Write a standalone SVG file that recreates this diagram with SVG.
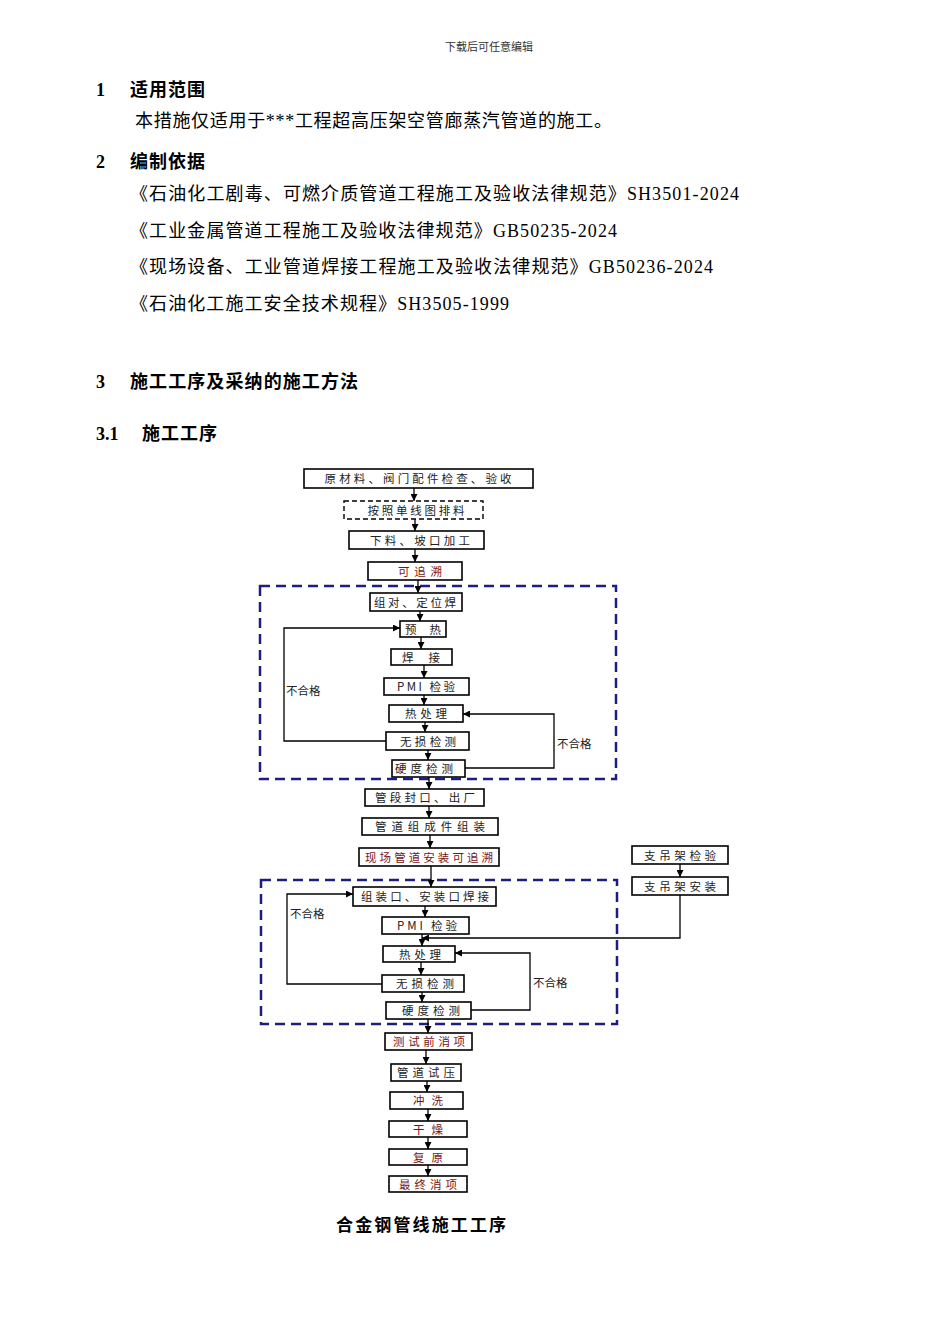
<svg xmlns="http://www.w3.org/2000/svg" width="950" height="1344" viewBox="0 0 950 1344">
<style>
.hdr{font-family:"Liberation Serif","Noto Sans CJK SC",serif;font-size:11px;fill:#333}
.h{font-family:"Liberation Serif","Noto Sans CJK SC",serif;font-size:18px;font-weight:bold;fill:#000}
.b{font-family:"Liberation Serif","Noto Sans CJK SC",serif;font-size:18px;fill:#000}
.box{fill:#fff;stroke:#000;stroke-width:1.6}
.dbox{fill:#fff;stroke:#000;stroke-width:1.4;stroke-dasharray:5 3}
.t{font-family:"Noto Sans CJK SC",sans-serif;font-size:11.5px;fill:#222;text-anchor:middle}
.r{fill:#7a1414}
.lbl{font-family:"Noto Sans CJK SC",sans-serif;font-size:11.5px;fill:#222}
.grp{fill:none;stroke:#1e1e82;stroke-width:2.5;stroke-dasharray:10 6}
.c{fill:none;stroke:#000;stroke-width:1.3}
.cap{font-family:"Liberation Serif","Noto Sans CJK SC",serif;font-size:17px;font-weight:bold;fill:#000}
</style>
<defs>
<marker id="a" viewBox="0 0 10 10" refX="10" refY="5" markerWidth="7" markerHeight="7" orient="auto" markerUnits="userSpaceOnUse"><path d="M0,0 L10,5 L0,10 z" fill="#000"/></marker>
</defs>
<rect width="950" height="1344" fill="#fff"/>
<g id="text">
<text class="hdr" x="489" y="51" text-anchor="middle">下载后可任意编辑</text>
<text class="h" x="96" y="96">1</text><text class="h" x="130" y="96" textLength="75">适用范围</text>
<text class="b" x="135" y="127" textLength="477">本措施仅适用于***工程超高压架空管廊蒸汽管道的施工。</text>
<text class="h" x="96" y="168">2</text><text class="h" x="130" y="168" textLength="75">编制依据</text>
<text class="b" x="130" y="200" textLength="609">《石油化工剧毒、可燃介质管道工程施工及验收法律规范》SH3501-2024</text>
<text class="b" x="130" y="237" textLength="487">《工业金属管道工程施工及验收法律规范》GB50235-2024</text>
<text class="b" x="130" y="273" textLength="583">《现场设备、工业管道焊接工程施工及验收法律规范》GB50236-2024</text>
<text class="b" x="130" y="310" textLength="379">《石油化工施工安全技术规程》SH3505-1999</text>
<text class="h" x="96" y="388">3</text><text class="h" x="130" y="388" textLength="228">施工工序及采纳的施工方法</text>
<text class="h" x="96" y="440">3.1</text><text class="h" x="142" y="440" textLength="75">施工工序</text>
<text class="cap" x="336" y="1231" textLength="170">合金钢管线施工工序</text>
</g>
<g id="groups">
<rect class="grp" x="260" y="586" width="356" height="193"/>
<rect class="grp" x="261" y="880" width="356" height="144"/>
</g>
<g id="connectors">
<line class="c" x1="414" y1="488" x2="414" y2="501" marker-end="url(#a)"/>
<line class="c" x1="415" y1="519" x2="415" y2="531" marker-end="url(#a)"/>
<line class="c" x1="415" y1="549" x2="415" y2="562" marker-end="url(#a)"/>
<line class="c" x1="418" y1="580" x2="418" y2="593" marker-end="url(#a)"/>
<line class="c" x1="420" y1="611" x2="420" y2="621" marker-end="url(#a)"/>
<line class="c" x1="421" y1="637" x2="421" y2="649" marker-end="url(#a)"/>
<line class="c" x1="424" y1="665" x2="424" y2="678" marker-end="url(#a)"/>
<line class="c" x1="424" y1="695" x2="424" y2="705" marker-end="url(#a)"/>
<line class="c" x1="425" y1="722" x2="425" y2="732" marker-end="url(#a)"/>
<line class="c" x1="428" y1="750" x2="428" y2="760" marker-end="url(#a)"/>
<polyline class="c" points="386,741 284,741 284,628 400,628" marker-end="url(#a)"/>
<polyline class="c" points="465,768 554,768 554,714 463,714" marker-end="url(#a)"/>
<line class="c" x1="429" y1="777" x2="429" y2="789" marker-end="url(#a)"/>
<line class="c" x1="429" y1="806" x2="429" y2="818" marker-end="url(#a)"/>
<line class="c" x1="430" y1="835" x2="430" y2="848" marker-end="url(#a)"/>
<line class="c" x1="431" y1="866" x2="431" y2="887" marker-end="url(#a)"/>
<line class="c" x1="680" y1="864" x2="680" y2="877" marker-end="url(#a)"/>
<line class="c" x1="425" y1="906" x2="425" y2="917" marker-end="url(#a)"/>
<line class="c" x1="422" y1="934" x2="422" y2="946" marker-end="url(#a)"/>
<polyline class="c" points="680,895 680,938 422,938" marker-end="url(#a)"/>
<line class="c" x1="421" y1="962" x2="421" y2="975" marker-end="url(#a)"/>
<line class="c" x1="422" y1="992" x2="422" y2="1002" marker-end="url(#a)"/>
<polyline class="c" points="382,984 287,984 287,894 353,894" marker-end="url(#a)"/>
<polyline class="c" points="471,1010 530,1010 530,953 455,953" marker-end="url(#a)"/>
<line class="c" x1="428" y1="1019" x2="428" y2="1033" marker-end="url(#a)"/>
<line class="c" x1="426" y1="1050" x2="426" y2="1064" marker-end="url(#a)"/>
<line class="c" x1="427" y1="1081" x2="427" y2="1092" marker-end="url(#a)"/>
<line class="c" x1="428" y1="1109" x2="428" y2="1121" marker-end="url(#a)"/>
<line class="c" x1="428" y1="1137" x2="428" y2="1149" marker-end="url(#a)"/>
<line class="c" x1="428" y1="1165" x2="428" y2="1176" marker-end="url(#a)"/>
<text class="lbl" x="286" y="695">不合格</text>
<text class="lbl" x="557" y="748">不合格</text>
<text class="lbl" x="290" y="918">不合格</text>
<text class="lbl" x="533" y="987">不合格</text>
</g>
<g id="n1"><rect class="box" x="304" y="469" width="229" height="19"/><text class="t" x="418" y="483" textLength="187">原材料、阀门配件检查、验收</text></g>
<g id="n2"><rect class="dbox" x="344" y="501" width="139" height="18"/><text class="t" x="416" y="514.5" textLength="97">按照单线图排料</text></g>
<g id="n3"><rect class="box" x="349" y="531" width="135" height="18"/><text class="t" x="420" y="544.5" textLength="100">下料、坡口加工</text></g>
<g id="n4"><rect class="box" x="368" y="562" width="94" height="18"/><text class="t r" x="420" y="575.5" textLength="44">可追溯</text></g>
<g id="n5"><rect class="box" x="370" y="593" width="92" height="18"/><text class="t" x="415" y="606.5" textLength="82">组对、定位焊</text></g>
<g id="n6"><rect class="box" x="400" y="621" width="46" height="16"/><text class="t" x="423" y="633.5" textLength="36">预 热</text></g>
<g id="n7"><rect class="box" x="391" y="649" width="61" height="16"/><text class="t" x="421" y="661.5" textLength="38">焊 接</text></g>
<g id="n8"><rect class="box" x="384" y="678" width="85" height="17"/><text class="t" x="426" y="691" textLength="58">PMI 检验</text></g>
<g id="n9"><rect class="box" x="389" y="705" width="74" height="17"/><text class="t" x="426" y="718" textLength="42">热处理</text></g>
<g id="n10"><rect class="box" x="386" y="732" width="83" height="18"/><text class="t" x="428" y="745.5" textLength="56">无损检测</text></g>
<g id="n11"><rect class="box" x="392" y="760" width="73" height="17"/><text class="t" x="424" y="773" textLength="58">硬度检测</text></g>
<g id="n12"><rect class="box" x="365" y="789" width="119" height="17"/><text class="t" x="425" y="802" textLength="100">管段封口、出厂</text></g>
<g id="n13"><rect class="box" x="362" y="818" width="136" height="17"/><text class="t" x="430" y="831" textLength="110">管道组成件组装</text></g>
<g id="n14"><rect class="box" x="359" y="848" width="140" height="18"/><text class="t r" x="429" y="861.5" textLength="128">现场管道安装可追溯</text></g>
<g id="n15"><rect class="box" x="632" y="846" width="96" height="18"/><text class="t" x="680" y="859.5" textLength="72">支吊架检验</text></g>
<g id="n16"><rect class="box" x="632" y="877" width="96" height="18"/><text class="t" x="680" y="890.5" textLength="72">支吊架安装</text></g>
<g id="n17"><rect class="box" x="353" y="887" width="143" height="19"/><text class="t" x="425" y="901" textLength="128">组装口、安装口焊接</text></g>
<g id="n18"><rect class="box" x="382" y="917" width="87" height="17"/><text class="t" x="427" y="930" textLength="60">PMI 检验</text></g>
<g id="n19"><rect class="box" x="383" y="946" width="72" height="16"/><text class="t" x="420" y="958.5" textLength="42">热处理</text></g>
<g id="n20"><rect class="box" x="382" y="975" width="82" height="17"/><text class="t" x="425" y="988" textLength="58">无损检测</text></g>
<g id="n21"><rect class="box" x="386" y="1002" width="85" height="17"/><text class="t" x="431" y="1015" textLength="58">硬度检测</text></g>
<g id="n22"><rect class="box" x="385" y="1033" width="87" height="17"/><text class="t r" x="429" y="1046" textLength="72">测试前消项</text></g>
<g id="n23"><rect class="box" x="391" y="1064" width="70" height="17"/><text class="t" x="426" y="1077" textLength="58">管道试压</text></g>
<g id="n24"><rect class="box" x="390" y="1092" width="73" height="17"/><text class="t r" x="428" y="1105" textLength="30">冲洗</text></g>
<g id="n25"><rect class="box" x="389" y="1121" width="78" height="16"/><text class="t r" x="428" y="1133.5" textLength="30">干燥</text></g>
<g id="n26"><rect class="box" x="389" y="1149" width="78" height="16"/><text class="t r" x="428" y="1161.5" textLength="30">复原</text></g>
<g id="n27"><rect class="box" x="389" y="1176" width="78" height="16"/><text class="t r" x="428" y="1188.5" textLength="58">最终消项</text></g>
</svg>
